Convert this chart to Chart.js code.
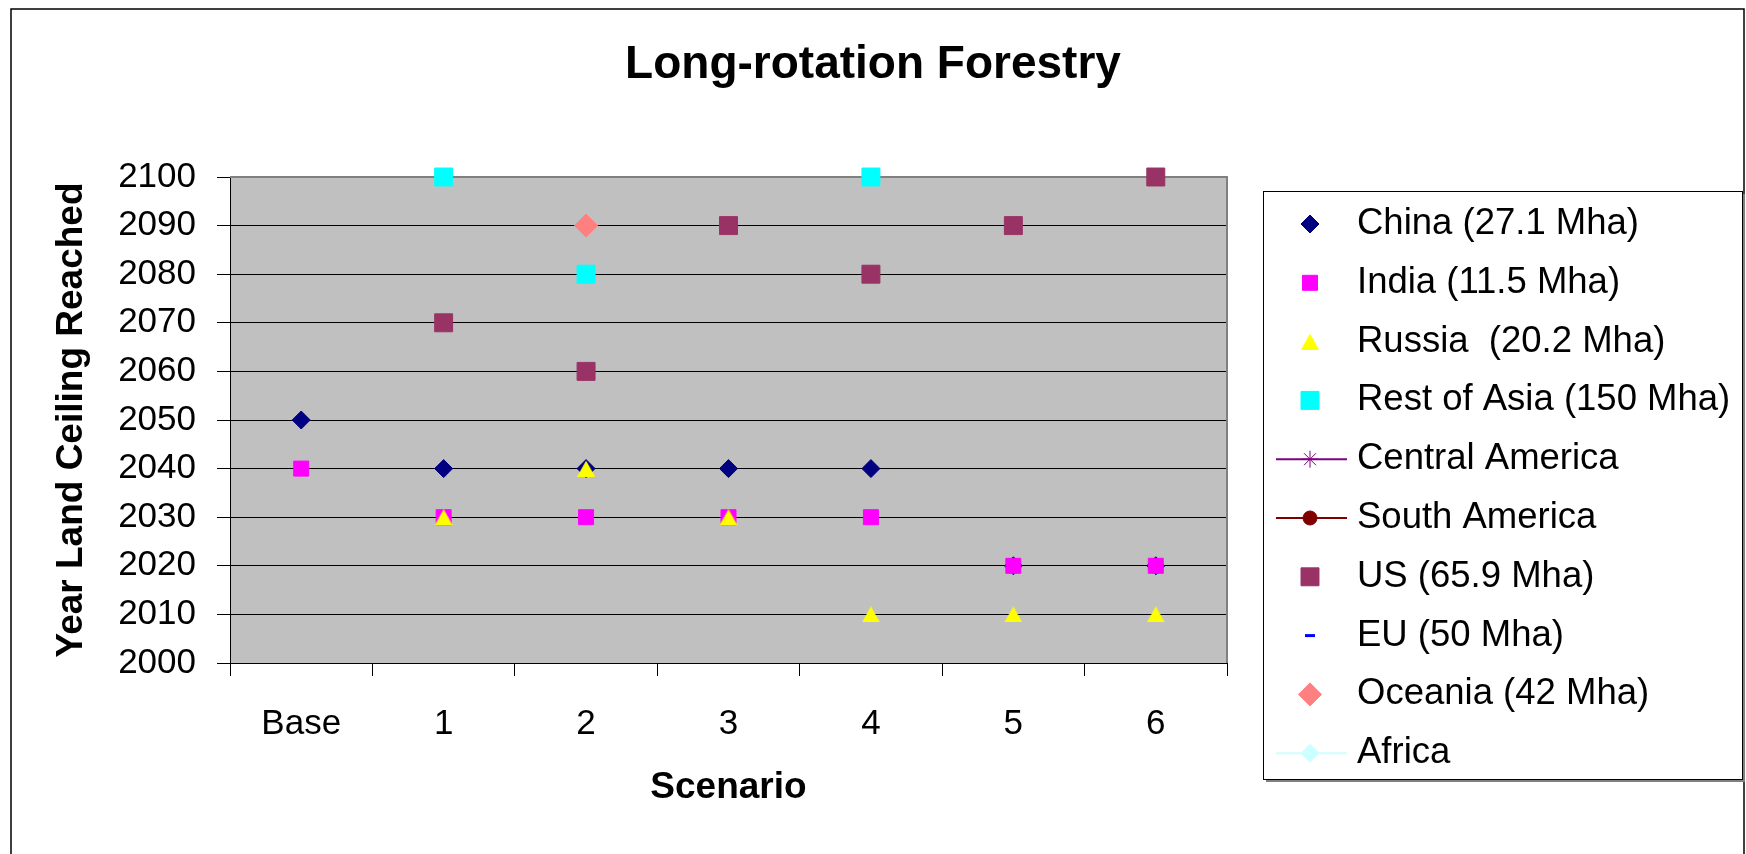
<!DOCTYPE html>
<html>
<head>
<meta charset="utf-8">
<title>Long-rotation Forestry</title>
<script src="https://cdn.jsdelivr.net/npm/chart.js@4.4.1/dist/chart.umd.min.js"></script>
<style>
  html, body { margin: 0; padding: 0; background: #fff; }
  canvas { display: block; }
</style>
</head>
<body>
<canvas id="myChart" width="1746" height="854"></canvas>
<script>
// Scenario categories along the x axis
const scenarios = ['Base', '1', '2', '3', '4', '5', '6'];

// Year the land ceiling is reached, per region (null = no point)
const china      = [2050, 2040, 2040, 2040, 2040, 2020, 2020];
const india      = [2040, 2030, 2030, 2030, 2030, 2020, 2020];
const russia     = [null, 2030, 2040, 2030, 2010, 2010, 2010];
const restOfAsia = [null, 2100, 2080, null, 2100, null, null];
const centralAm  = [null, null, null, null, null, null, null];
const southAm    = [null, null, null, null, null, null, null];
const us         = [null, 2070, 2060, 2090, 2080, 2090, 2100];
const eu         = [null, null, null, null, null, null, null];
const oceania    = [null, null, 2090, null, null, null, null];
const africa     = [null, null, null, null, null, null, null];

const seriesNames = [
  'China (27.1 Mha)', 'India (11.5 Mha)', 'Russia  (20.2 Mha)', 'Rest of Asia (150 Mha)',
  'Central America', 'South America', 'US (65.9 Mha)', 'EU (50 Mha)', 'Oceania (42 Mha)', 'Africa'
];
const seriesData = [china, india, russia, restOfAsia, centralAm, southAm, us, eu, oceania, africa];

// triangle marker centred on its box (the built-in one sits high)
function triangleMarker(color, w, h) {
  const c = document.createElement('canvas');
  c.width = w;
  c.height = h;
  const g = c.getContext('2d');
  g.fillStyle = color;
  g.beginPath();
  g.moveTo(w / 2, 0);
  g.lineTo(w, h);
  g.lineTo(0, h);
  g.closePath();
  g.fill();
  return c;
}

// marker look for each series (line: legend shows a line through the marker)
const styles = [
  { color: '#000080', point: 'rectRot', r: 9 },
  { color: '#FF00FF', point: 'rect', r: 10.6 },
  { color: '#FFFF00', point: triangleMarker('#FFFF00', 18, 16), r: 10 },
  { color: '#00FFFF', point: 'rect', r: 12.7 },
  { color: '#800080', point: 'star', r: 8.5, line: true },
  { color: '#800000', point: 'circle', r: 7, line: true },
  { color: '#993366', point: 'rect', r: 12.7 },
  { color: '#0000FF', point: 'dash', r: 10, bw: 3 },
  { color: '#FF8080', point: 'rectRot', r: 11.5 },
  { color: '#CCFFFF', point: 'rectRot', r: 9, line: true }
];

const FONT = 'Arial, "Liberation Sans", sans-serif';

// white page, outer frame and grey plot background
const chartFrame = {
  id: 'chartFrame',
  beforeDraw(chart) {
    const { ctx, chartArea: a } = chart;
    ctx.save();
    ctx.fillStyle = '#fff';
    ctx.fillRect(0, 0, chart.width, chart.height);
    ctx.strokeStyle = '#000';
    ctx.lineWidth = 1.5;
    ctx.strokeRect(11, 9, chart.width - 13, chart.height + 10);
    ctx.fillStyle = '#C0C0C0';
    ctx.fillRect(a.left, a.top, a.right - a.left, a.bottom - a.top);
    ctx.restore();
  },
  beforeDatasetsDraw(chart) {
    // grey edge on top and right of the plot
    const { ctx, chartArea: a } = chart;
    ctx.save();
    ctx.strokeStyle = '#808080';
    ctx.lineWidth = 2;
    ctx.beginPath();
    ctx.moveTo(a.left, a.top);
    ctx.lineTo(a.right, a.top);
    ctx.lineTo(a.right, a.bottom);
    ctx.stroke();
    ctx.restore();
  }
};

// boxed legend to the right of the plot
const boxLegend = {
  id: 'boxLegend',
  afterDraw(chart) {
    const { ctx, chartArea: a } = chart;
    const left = a.right + 36, top = 191, w = 479, h = 588;
    ctx.save();
    ctx.fillStyle = '#808080';
    ctx.fillRect(left + 3, top + 3, w, h);
    ctx.fillStyle = '#fff';
    ctx.fillRect(left, top, w, h);
    ctx.strokeStyle = '#000';
    ctx.lineWidth = 1;
    ctx.strokeRect(left + 0.5, top + 0.5, w, h);

    chart.data.datasets.forEach((ds, i) => {
      const st = styles[i];
      const y = top + 33 + i * 58.8;
      const mx = left + 47;
      if (st.line) {
        ctx.strokeStyle = st.color;
        ctx.lineWidth = 2;
        ctx.beginPath();
        ctx.moveTo(left + 13, y);
        ctx.lineTo(left + 84, y);
        ctx.stroke();
      }
      ctx.fillStyle = st.color;
      ctx.strokeStyle = st.color;
      ctx.lineWidth = st.bw || 1;
      Chart.helpers.drawPoint(ctx, {
        pointStyle: st.point, radius: st.r, rotation: 0, borderWidth: st.bw || 1
      }, st.point === 'dash' ? mx - st.r / 2 : mx, y);
      ctx.fillStyle = '#000';
      ctx.font = '36.5px ' + FONT;
      ctx.textAlign = 'left';
      ctx.textBaseline = 'middle';
      ctx.fillText(ds.label, left + 94, y);
    });
    ctx.restore();
  }
};

const datasets = seriesData.map((data, i) => ({
  label: seriesNames[i],
  data: data,
  showLine: false,
  pointStyle: styles[i].point,
  pointRadius: styles[i].r,
  pointHoverRadius: styles[i].r,
  pointBorderWidth: styles[i].bw || 1,
  backgroundColor: styles[i].color,
  borderColor: styles[i].color,
  order: seriesData.length - i,
  clip: false
}));

const config = {
  type: 'line',
  data: { labels: scenarios, datasets: datasets },
  options: {
    responsive: false,
    animation: false,
    layout: { padding: 0 },
    plugins: {
      legend: { display: false },
      tooltip: { enabled: false },
      title: {
        display: true,
        text: 'Long-rotation Forestry',
        color: '#000',
        font: { family: FONT, size: 46, weight: 'bold' },
        padding: { top: 38, bottom: 83.8 }
      }
    },
    scales: {
      x: {
        type: 'category',
        offset: true,
        grid: { offset: true, drawOnChartArea: false, color: '#000', tickLength: 13 },
        border: { color: '#000' },
        ticks: { color: '#000', font: { family: FONT, size: 35 }, padding: 27, maxRotation: 0, autoSkip: false },
        title: {
          display: true, text: 'Scenario', color: '#000',
          font: { family: FONT, size: 37, weight: 'bold' },
          padding: { top: 0, bottom: 43.8 }
        },
        afterFit: s => { s.height = 191; }
      },
      y: {
        min: 2000,
        max: 2100,
        grid: { color: '#000', tickLength: 13 },
        border: { color: '#000' },
        ticks: { stepSize: 10, color: '#000', font: { family: FONT, size: 35 }, padding: 21, callback: v => String(v) },
        title: {
          display: true, text: 'Year Land Ceiling Reached', color: '#000',
          font: { family: FONT, size: 37, weight: 'bold' },
          padding: { top: 50, bottom: 0 }
        },
        afterFit: s => { s.width = 230; }
      },
      // empty axis that keeps room for the legend box
      legendSpace: {
        type: 'linear',
        position: 'right',
        ticks: { display: false },
        grid: { display: false },
        border: { display: false },
        afterFit: s => { s.width = 519; }
      }
    }
  },
  plugins: [chartFrame, boxLegend]
};

new Chart(document.getElementById('myChart'), config);
</script>
</body>
</html>
